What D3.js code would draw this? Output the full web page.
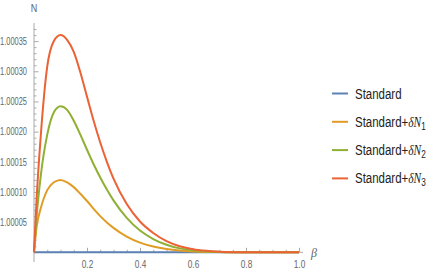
<!DOCTYPE html>
<html>
<head>
<meta charset="utf-8">
<script src="https://cdn.jsdelivr.net/npm/d3@7"></script>
<style>
  body { margin: 0; background: #fff; }
  svg { display: block; }
  .tick text { font-family: "Liberation Sans", Arial, sans-serif; font-size: 10.5px; fill: #666; }
  .axis .tick line { stroke: #aaa; }
</style>
</head>
<body>
<div id="chart"></div>
<script>
(function() {
  // values, N - 1 in units of 1e-5
  var betas    = [0, 0.01, 0.025, 0.05, 0.075, 0.1, 0.125, 0.15, 0.175, 0.2, 0.225, 0.25, 0.275, 0.3, 0.35, 0.4, 0.45, 0.5, 0.55, 0.6, 0.65, 0.7, 0.8, 0.9, 1.0]
  var standard = [0, 0, 0, 0, 0, 0, 0, 0, 0, 0, 0, 0, 0, 0, 0, 0, 0, 0, 0, 0, 0, 0, 0, 0, 0]
  var deltaN1  = [0, 4.3, 7.2, 10.3, 11.6, 12.0, 11.6, 10.8, 9.7, 8.5, 7.2, 6.0, 4.95, 4.05, 2.6, 1.6, 0.95, 0.53, 0.28, 0.14, 0.06, 0.03, 0, 0, 0]
  var deltaN2  = [0, 6, 12.5, 19.5, 23.2, 24.2, 23.6, 21.8, 19.5, 17, 14.6, 12.4, 10.4, 8.6, 5.7, 3.6, 2.2, 1.25, 0.65, 0.32, 0.15, 0.07, 0.01, 0, 0]
  var deltaN3  = [0, 9, 19, 30.8, 35, 36, 35.2, 33.2, 29.8, 25.8, 21.8, 18.2, 15.0, 12.2, 8.0, 5.1, 3.2, 1.85, 1.0, 0.5, 0.24, 0.11, 0.02, 0, 0]

  var seriesNames  = ["Standard", "Standard+\u03b4N1", "Standard+\u03b4N2", "Standard+\u03b4N3"]
  var seriesValues = [standard, deltaN1, deltaN2, deltaN3]
  var colors = ["#5e81b5", "#e19c24", "#8fb032", "#eb6235"]

  var yMajor = [1.00005, 1.0001, 1.00015, 1.0002, 1.00025, 1.0003, 1.00035]
  var xMajor = [0.2, 0.4, 0.6, 0.8, 1.0]

  var width = 436, height = 273

  var svg = d3.select("#chart")
    .append("svg")
    .attr("width", width)
    .attr("height", height)

  var xPositionScale = d3.scaleLinear().domain([0, 1]).range([34, 299])
  var yPositionScale = d3.scaleLinear().domain([1, 1.00038]).range([252.3, 23])

  // axis lines
  svg.append("line")
    .attr("x1", 34).attr("x2", 303)
    .attr("y1", yPositionScale(1)).attr("y2", yPositionScale(1))
    .attr("stroke", "#aaa")
  svg.append("line")
    .attr("x1", 34).attr("x2", 34)
    .attr("y1", 23).attr("y2", 262)
    .attr("stroke", "#aaa")

  // minor ticks
  var yMinor = d3.range(1, 38).map(d => 1 + d * 1e-5).filter(d => Math.round(d * 1e5) % 5 != 0)
  var xMinor = d3.range(1, 21).map(d => d * 0.05).filter(d => Math.round(d * 100) % 20 != 0)

  svg.append("g")
    .attr("class", "axis")
    .attr("transform", "translate(34,0)")
    .call(d3.axisLeft(yPositionScale).tickValues(yMinor).tickSize(-2.5).tickFormat(""))
    .call(g => g.select(".domain").remove())

  svg.append("g")
    .attr("class", "axis")
    .attr("transform", "translate(0," + yPositionScale(1) + ")")
    .call(d3.axisBottom(xPositionScale).tickValues(xMinor).tickSize(-2.5).tickFormat(""))
    .call(g => g.select(".domain").remove())

  // major ticks
  svg.append("g")
    .attr("class", "axis y-axis")
    .attr("transform", "translate(34,0)")
    .call(d3.axisLeft(yPositionScale).tickValues(yMajor).tickSize(-4.5).tickPadding(7).tickFormat(d3.format(".5f")))
    .call(g => g.select(".domain").remove())
    .call(g => g.selectAll(".tick text").attr("textLength", 27).attr("lengthAdjust", "spacingAndGlyphs"))

  svg.append("g")
    .attr("class", "axis x-axis")
    .attr("transform", "translate(0," + yPositionScale(1) + ")")
    .call(d3.axisBottom(xPositionScale).tickValues(xMajor).tickSize(-4.5).tickPadding(8).tickFormat(d3.format(".1f")))
    .call(g => g.select(".domain").remove())
    .call(g => g.selectAll(".tick text").attr("textLength", 11.5).attr("lengthAdjust", "spacingAndGlyphs"))

  // axis labels
  svg.append("text")
    .attr("transform", "translate(34,12) scale(0.82,1)")
    .attr("text-anchor", "middle")
    .style("font-family", "Liberation Sans, sans-serif")
    .style("font-size", "11px")
    .attr("fill", "#666")
    .text("N")
  svg.append("text")
    .attr("x", 311).attr("y", 257)
    .style("font-family", "Liberation Serif, serif")
    .style("font-style", "italic")
    .style("font-size", "12px")
    .attr("fill", "#666")
    .text("\u03b2")

  // curves
  var line = d3.line()
    .x((d, i) => xPositionScale(betas[i]))
    .y(d => yPositionScale(1 + d * 1e-5))
    .curve(d3.curveMonotoneX)

  svg.selectAll(".curve")
    .data(seriesValues)
    .enter().append("path")
    .attr("class", "curve")
    .attr("d", d => line(d))
    .attr("fill", "none")
    .attr("stroke", (d, i) => colors[i])
    .attr("stroke-width", 2)

  // legend
  var legend = svg.selectAll(".legend")
    .data(seriesNames)
    .enter().append("g")
    .attr("class", "legend")
    .attr("transform", (d, i) => "translate(332," + (93.5 + i * 28.3) + ")")

  legend.append("line")
    .attr("x1", 0).attr("x2", 16)
    .attr("stroke", (d, i) => colors[i])
    .attr("stroke-width", 2)

  var label = legend.append("text")
    .attr("transform", "translate(23,5) scale(0.82,1)")
    .style("font-family", "Liberation Sans, sans-serif")
    .style("font-size", "14px")
    .attr("fill", "#222")

  label.append("tspan").text((d, i) => i == 0 ? "Standard" : "Standard+")
  label.filter((d, i) => i > 0).append("tspan")
    .style("font-family", "Liberation Serif, serif")
    .style("font-style", "italic")
    .text("\u03b4")
  label.filter((d, i) => i > 0).append("tspan")
    .style("font-family", "Liberation Serif, serif")
    .style("font-style", "italic")
    .text("N")
  label.filter((d, i) => i > 0).append("tspan")
    .attr("dy", 3)
    .style("font-size", "10px")
    .text((d, i) => i + 1)
})()
</script>
</body>
</html>
